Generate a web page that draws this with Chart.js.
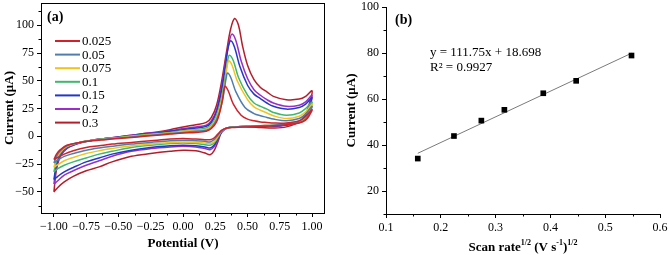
<!DOCTYPE html>
<html>
<head>
<meta charset="utf-8">
<script src="https://cdn.jsdelivr.net/npm/chart.js@4.4.1/dist/chart.umd.min.js"></script>
<style>
  html, body { margin: 0; padding: 0; background: #fff; }
  #wrap { position: relative; width: 669px; height: 255px; overflow: hidden; }
  .panel { position: absolute; top: 0; height: 255px; }
  #panelA { left: 0; width: 335px; }
  #panelB { left: 335px; width: 334px; }
</style>
</head>
<body>
<div id="wrap">
  <div class="panel" id="panelA"><canvas id="chart_cv"></canvas></div>
  <div class="panel" id="panelB"><canvas id="chart_fit"></canvas></div>
</div>
<script>
// ---- panel (a): cyclic voltammograms, potential (V) vs current (uA)
// each curve: forward sweep -1 -> 1 V, then reverse sweep back to -1 V
var scanRates = ['0.025', '0.05', '0.075', '0.1', '0.15', '0.2', '0.3'];

var cv_0025 = [[-1,-21],[-0.98,-16],[-0.95,-12],[-0.9,-8],[-0.8,-5.5],[-0.7,-4],[-0.6,-3],[-0.5,-2],[-0.4,-1],[-0.3,0],[-0.2,1],[-0.1,2],[0,3],[0.1,3.5],[0.18,4.5],[0.22,7],[0.26,13],[0.29,24],[0.31,36],[0.325,45],[0.35,41],[0.39,29],[0.45,19],[0.5,15.5],[0.55,14],[0.6,13],[0.65,12.5],[0.7,12],[0.8,12],[0.9,14],[0.95,18],[1,24],
  [0.98,19],[0.95,14.5],[0.9,12],[0.8,10.5],[0.7,9.5],[0.6,9],[0.5,8.5],[0.4,8],[0.34,7.5],[0.3,5.5],[0.27,2],[0.24,-1.5],[0.21,-3],[0.17,-3],[0.1,-2.5],[0,-2],[-0.1,-2.5],[-0.25,-4],[-0.4,-5.5],[-0.55,-7],[-0.65,-8.5],[-0.75,-10],[-0.85,-13],[-0.92,-16],[-0.97,-19],[-1,-21]];
var cv_005 = [[-1,-24],[-0.98,-18],[-0.95,-13],[-0.9,-8.5],[-0.8,-5.5],[-0.7,-3.5],[-0.6,-2.5],[-0.5,-1.5],[-0.4,-0.5],[-0.3,0.5],[-0.2,1.5],[-0.1,2.5],[0,3.5],[0.1,4.5],[0.18,5.5],[0.22,8],[0.26,15],[0.3,29],[0.32,42],[0.335,53],[0.345,57],[0.37,53],[0.41,40],[0.48,26],[0.55,20.5],[0.6,18.5],[0.65,17],[0.7,15.5],[0.8,14],[0.9,16],[0.95,20],[1,27],
  [0.98,21],[0.95,15.5],[0.9,12.5],[0.8,11],[0.7,10],[0.6,9.5],[0.5,9],[0.4,8.5],[0.34,7.5],[0.3,5],[0.27,1],[0.24,-3],[0.21,-5],[0.17,-4.5],[0.1,-4],[0,-3.5],[-0.1,-4],[-0.25,-5.5],[-0.4,-7],[-0.55,-9],[-0.65,-10.5],[-0.75,-12.5],[-0.85,-15.5],[-0.92,-18],[-0.97,-21.5],[-1,-24]];
var cv_0075 = [[-1,-28],[-0.98,-20],[-0.95,-14],[-0.9,-9],[-0.8,-5.5],[-0.7,-3.5],[-0.6,-2.2],[-0.5,-1.2],[-0.4,0],[-0.3,1],[-0.2,2],[-0.1,3],[0,4.5],[0.1,5.5],[0.18,6.5],[0.22,9.5],[0.26,17],[0.3,33],[0.33,52],[0.34,62],[0.355,68],[0.38,64],[0.42,50],[0.5,33],[0.55,26.5],[0.6,23.5],[0.65,21],[0.7,18.5],[0.8,16],[0.9,18],[0.95,22],[1,29],
  [0.98,22],[0.95,16],[0.9,12.5],[0.8,11],[0.7,10],[0.6,9.5],[0.5,9],[0.4,8.5],[0.34,7.5],[0.3,5],[0.27,0],[0.24,-5],[0.21,-6.5],[0.17,-6],[0.1,-5.5],[0,-5],[-0.1,-5.5],[-0.25,-7],[-0.4,-8.5],[-0.55,-11],[-0.65,-13],[-0.75,-15.5],[-0.85,-19],[-0.92,-22],[-0.97,-25.5],[-1,-28]];
var cv_01 = [[-1,-32],[-0.98,-22],[-0.95,-15],[-0.9,-9.5],[-0.8,-5.5],[-0.7,-3.5],[-0.6,-2],[-0.5,-1],[-0.4,0.3],[-0.3,1.5],[-0.2,2.5],[-0.1,3.5],[0,5],[0.1,6],[0.18,7.5],[0.22,10.5],[0.26,19],[0.3,36],[0.33,56],[0.345,68],[0.36,73],[0.39,68],[0.43,53],[0.5,37],[0.55,30],[0.6,27],[0.65,24.5],[0.7,21.5],[0.8,19],[0.9,21],[0.95,25],[1,31],
  [0.98,24],[0.95,17],[0.9,13],[0.8,11],[0.7,10],[0.6,9.5],[0.5,9],[0.4,8.5],[0.34,7.5],[0.3,4.5],[0.27,-1],[0.24,-6],[0.21,-8],[0.17,-7.5],[0.1,-6.5],[0,-6],[-0.1,-6.5],[-0.25,-8],[-0.4,-10],[-0.55,-13.5],[-0.65,-16],[-0.75,-19.5],[-0.85,-23],[-0.92,-26],[-0.97,-29],[-1,-32]];
var cv_015 = [[-1,-39],[-0.98,-25],[-0.95,-16],[-0.9,-10],[-0.8,-5.5],[-0.7,-3.5],[-0.6,-2],[-0.5,-0.8],[-0.4,0.5],[-0.3,2],[-0.2,3],[-0.1,4.5],[0,6],[0.1,7.5],[0.18,9],[0.22,12.5],[0.26,22],[0.3,42],[0.33,64],[0.35,80],[0.37,86],[0.4,80],[0.44,63],[0.5,46],[0.55,38],[0.6,34],[0.65,30],[0.7,27],[0.8,24.5],[0.9,26],[0.95,29],[1,35],
  [0.98,27],[0.95,18],[0.9,13],[0.8,10.5],[0.7,9.5],[0.6,9.5],[0.5,9],[0.4,8.5],[0.34,7.5],[0.3,4],[0.27,-2],[0.24,-8],[0.21,-10.5],[0.17,-9.5],[0.1,-8.5],[0,-8],[-0.1,-8.5],[-0.25,-10],[-0.4,-12.5],[-0.55,-16],[-0.65,-19.5],[-0.75,-23],[-0.85,-28],[-0.92,-32],[-0.97,-36],[-1,-39]];
var cv_02 = [[-1,-43],[-0.98,-27],[-0.95,-17],[-0.9,-10.5],[-0.8,-6],[-0.7,-3.5],[-0.6,-2],[-0.5,-0.5],[-0.4,1],[-0.3,2.5],[-0.2,3.5],[-0.1,5],[0,7],[0.1,8.5],[0.18,10],[0.22,14],[0.26,24],[0.3,45],[0.33,68],[0.36,86],[0.38,92],[0.41,86],[0.45,68],[0.5,52],[0.55,42],[0.6,37],[0.65,33],[0.7,30],[0.8,27],[0.9,28],[0.95,31],[1,37],
  [0.98,28],[0.95,19],[0.9,13],[0.8,10],[0.7,9],[0.6,9],[0.5,9],[0.4,8.5],[0.34,7.5],[0.3,4],[0.27,-3],[0.24,-9.5],[0.21,-12],[0.17,-11],[0.1,-9.5],[0,-9],[-0.1,-9.5],[-0.25,-11],[-0.4,-13.5],[-0.55,-18],[-0.65,-22],[-0.75,-26],[-0.85,-31],[-0.92,-35],[-0.97,-40],[-1,-43]];
var cv_03 = [[-1,-50],[-0.98,-30],[-0.95,-18],[-0.9,-11],[-0.8,-6],[-0.7,-3.5],[-0.6,-2],[-0.5,-0.5],[-0.4,1],[-0.3,2.5],[-0.2,4],[-0.1,6],[0,8.5],[0.1,10.5],[0.18,12.5],[0.22,17],[0.26,28],[0.3,50],[0.34,78],[0.37,97],[0.4,106],[0.43,100],[0.46,82],[0.5,64],[0.55,51],[0.6,44],[0.65,40],[0.7,36],[0.8,33],[0.9,33.5],[0.95,36],[1,41],
  [0.98,30],[0.95,20],[0.9,13],[0.8,8.5],[0.7,7.5],[0.6,8],[0.5,8.5],[0.4,8.5],[0.34,7.5],[0.3,4],[0.27,-5],[0.24,-13],[0.21,-16.5],[0.17,-15],[0.1,-13],[0,-12.5],[-0.1,-13.5],[-0.25,-15.5],[-0.4,-18],[-0.55,-23],[-0.65,-27.5],[-0.75,-31],[-0.85,-36],[-0.92,-41],[-0.97,-46],[-1,-50]];
var cvCurves = [cv_0025, cv_005, cv_0075, cv_01, cv_015, cv_02, cv_03];
var cvColors = ['#d0222b', '#4f7eae', '#f2c21d', '#3db86c', '#2338c8', '#9a2ec8', '#b41e2b'];

var xTicksA = [-1, -0.75, -0.5, -0.25, 0, 0.25, 0.5, 0.75, 1];
var yTicksA = [-50, -25, 0, 25, 50, 75, 100];

// ---- panel (b): peak current vs square root of scan rate
var sqrtScanRate = [0.158, 0.224, 0.274, 0.316, 0.387, 0.447, 0.548];
var peakCurrent = [34.1, 43.9, 50.6, 55.3, 62.5, 67.9, 78.9];
var fitX = [0.158, 0.548];
var fitY = [36.4, 79.9];
var fitEquation = 'y = 111.75x + 18.698';
var fitR2 = 'R\u00B2 = 0.9927';
var xTicksB = [0.1, 0.2, 0.3, 0.4, 0.5, 0.6];
var yTicksB = [20, 40, 60, 80, 100];

Chart.defaults.font.family = '"Liberation Serif", "Times New Roman", serif';
Chart.defaults.font.size = 12;
Chart.defaults.color = '#000';

function useTicks(list) {
    return function (axis) {
        axis.ticks = list.map(function (v) { return { value: v }; });
    };
}
function minusSign(s) {
    return String(s).replace('-', '\u2212');
}
// pin the axis boxes so the plot areas sit where they do in the figure
function fixYWidth(w) {
    return function (s) { s.width = w; s.paddingTop = 0; s.paddingBottom = 0; };
}
function fixXHeight(h) {
    return function (s) { s.height = h; s.paddingLeft = 0; s.paddingRight = 0; };
}
function minorTicks(ctx, chart, xs, ys) {
    var a = chart.chartArea, sx = chart.scales.x, sy = chart.scales.y;
    ctx.beginPath();
    xs.forEach(function (v) {
        var px = Math.round(sx.getPixelForValue(v)) + 0.5;
        ctx.moveTo(px, a.bottom); ctx.lineTo(px, a.bottom + 2.5);
    });
    ys.forEach(function (v) {
        var py = Math.round(sy.getPixelForValue(v)) + 0.5;
        ctx.moveTo(a.left, py); ctx.lineTo(a.left - 2.5, py);
    });
    ctx.stroke();
}

var cvDecor = {
    id: 'cvDecor',
    afterDraw: function (chart) {
        var ctx = chart.ctx, a = chart.chartArea;
        ctx.save();
        ctx.strokeStyle = '#000';
        ctx.lineWidth = 1;
        ctx.strokeRect(a.left + 0.5, a.top + 0.5, a.right - a.left - 1, a.bottom - a.top);
        minorTicks(ctx, chart, [-0.875, -0.625, -0.375, -0.125, 0.125, 0.375, 0.625, 0.875],
            [-62.5, -37.5, -12.5, 12.5, 37.5, 62.5, 87.5, 112.5]);
        ctx.font = '13px "Liberation Serif"';
        ctx.textBaseline = 'middle';
        ctx.fillStyle = '#000';
        chart.data.datasets.forEach(function (ds, i) {
            var y = 41 + i * 13.6;
            ctx.strokeStyle = ds.borderColor;
            ctx.lineWidth = 2;
            ctx.beginPath();
            ctx.moveTo(55, y); ctx.lineTo(80, y);
            ctx.stroke();
            ctx.fillText(ds.label, 82, y + 0.5);
        });
        ctx.font = 'bold 14px "Liberation Serif"';
        ctx.fillText('(a)', 47, 17);
        ctx.restore();
    }
};

var chart_cv = new Chart(document.getElementById('chart_cv'), {
    type: 'scatter',
    data: {
        datasets: cvCurves.map(function (c, i) {
            return {
                label: scanRates[i],
                data: c.map(function (p) { return { x: p[0], y: p[1] }; }),
                showLine: true,
                borderColor: cvColors[i],
                borderWidth: 1.5,
                pointRadius: 0,
                tension: 0.35
            };
        })
    },
    options: {
        animation: false,
        responsive: true,
        maintainAspectRatio: false,
        layout: { padding: { left: 0, top: 3, right: 10, bottom: 0 } },
        plugins: { legend: { display: false }, tooltip: { enabled: false } },
        scales: {
            x: {
                type: 'linear', min: -1.1, max: 1.1,
                afterBuildTicks: useTicks(xTicksA),
                afterFit: fixXHeight(42),
                grid: { drawOnChartArea: false, drawTicks: true, tickLength: 4, color: '#000' },
                border: { display: false },
                ticks: { padding: 3, maxRotation: 0, callback: function (v) { return minusSign(v.toFixed(2)); } },
                title: { display: true, text: 'Potential (V)', font: { size: 13, weight: 'bold' }, padding: { top: 0, bottom: 4 } }
            },
            y: {
                type: 'linear', min: -69, max: 120,
                afterBuildTicks: useTicks(yTicksA),
                afterFit: fixYWidth(41),
                grid: { drawOnChartArea: false, drawTicks: true, tickLength: 4, color: '#000' },
                border: { display: false },
                ticks: { padding: 3, callback: function (v) { return minusSign(v); } },
                title: { display: true, text: 'Current (\u03BCA)', font: { size: 13, weight: 'bold' }, padding: { top: 2, bottom: 0 } }
            }
        }
    },
    plugins: [cvDecor]
});

var fitDecor = {
    id: 'fitDecor',
    afterDraw: function (chart) {
        var ctx = chart.ctx, a = chart.chartArea;
        ctx.save();
        ctx.strokeStyle = '#000';
        ctx.lineWidth = 1;
        minorTicks(ctx, chart, [0.15, 0.25, 0.35, 0.45, 0.55], [10, 30, 50, 70, 90]);
        ctx.fillStyle = '#000';
        ctx.textBaseline = 'middle';
        ctx.font = 'bold 14px "Liberation Serif"';
        ctx.fillText('(b)', 60, 20);
        ctx.font = '13px "Liberation Serif"';
        ctx.fillText(fitEquation, 95, 53);
        ctx.fillText(fitR2, 95, 68);
        // x title with superscripts
        var parts = [
            ['Scan rate', 0], ['1/2', 1], [' (V s', 0], ['-1', 1], [')', 0], ['1/2', 1]
        ];
        var big = 'bold 13px "Liberation Serif"', small = 'bold 8px "Liberation Serif"';
        var total = 0;
        parts.forEach(function (p) { ctx.font = p[1] ? small : big; total += ctx.measureText(p[0]).width; });
        var x = (a.left + a.right) / 2 - total / 2, y = 246;
        ctx.textBaseline = 'alphabetic';
        parts.forEach(function (p) {
            ctx.font = p[1] ? small : big;
            ctx.fillText(p[0], x, p[1] ? y - 1 : y + 4.5);
            x += ctx.measureText(p[0]).width;
        });
        ctx.restore();
    }
};

var chart_fit = new Chart(document.getElementById('chart_fit'), {
    type: 'scatter',
    data: {
        datasets: [
            {
                label: 'Peak current',
                data: sqrtScanRate.map(function (v, i) { return { x: v, y: peakCurrent[i] }; }),
                pointStyle: 'rect',
                pointRadius: 4,
                backgroundColor: '#000',
                borderColor: '#000',
                borderWidth: 0
            },
            {
                label: 'Linear fit',
                data: fitX.map(function (v, i) { return { x: v, y: fitY[i] }; }),
                showLine: true,
                borderColor: '#7a7a7a',
                borderWidth: 1,
                pointRadius: 0
            }
        ]
    },
    options: {
        animation: false,
        responsive: true,
        maintainAspectRatio: false,
        layout: { padding: { left: 0, top: 7, right: 9, bottom: 0 } },
        plugins: { legend: { display: false }, tooltip: { enabled: false } },
        scales: {
            x: {
                type: 'linear', min: 0.1, max: 0.6,
                afterBuildTicks: useTicks(xTicksB),
                afterFit: fixXHeight(41),
                grid: { drawOnChartArea: false, drawTicks: true, tickLength: 4, color: '#000' },
                border: { display: true, color: '#000', width: 1 },
                ticks: { padding: 3, maxRotation: 0, callback: function (v) { return v.toFixed(1); } },
                title: { display: false }
            },
            y: {
                type: 'linear', min: 10, max: 100,
                afterBuildTicks: useTicks(yTicksB),
                afterFit: fixYWidth(51),
                grid: { drawOnChartArea: false, drawTicks: true, tickLength: 4, color: '#000' },
                border: { display: true, color: '#000', width: 1 },
                ticks: { padding: 3 },
                title: { display: true, text: 'Current (\u03BCA)', font: { size: 13, weight: 'bold' }, padding: { top: 9, bottom: 0 } }
            }
        }
    },
    plugins: [fitDecor]
});
</script>
</body>
</html>
